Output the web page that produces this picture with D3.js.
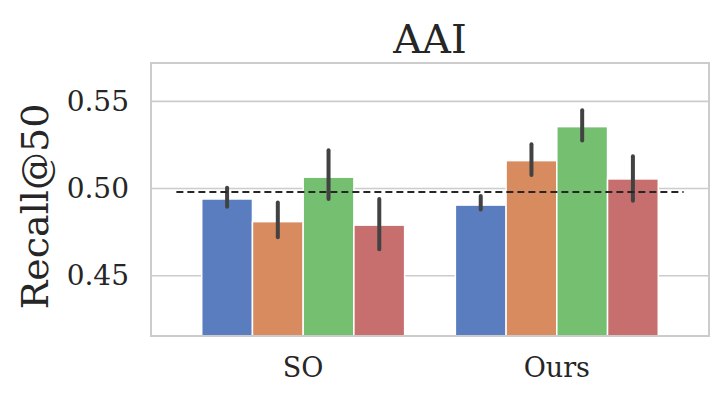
<!DOCTYPE html>
<html lang="en">
<head>
    <meta charset="UTF-8">
    <title>AAI</title>
    <script src="https://cdn.jsdelivr.net/npm/d3@7"></script>
    <style>
        body { margin: 0; background: #fff; }
        svg { display: block; }
        text { font-family: 'DejaVu Serif', serif; fill: #262626; }
    </style>
</head>
<body>
<div id="chart"></div>
<script type="text/javascript">
    var w = 718;
    var h = 396;

    // data
    var categories = ["SO", "Ours"];
    var series = ["s1", "s2", "s3", "s4"];
    var colors = ["#597dbf", "#d88b5f", "#75bf71", "#c76e6e"];
    var means = [
        [0.494, 0.481, 0.5065, 0.479],
        [0.4905, 0.516, 0.5355, 0.5055]
    ];
    var ciLow = [
        [0.4895, 0.472, 0.494, 0.4652],
        [0.488, 0.5078, 0.5275, 0.493]
    ];
    var ciHigh = [
        [0.5005, 0.492, 0.522, 0.494],
        [0.4957, 0.5254, 0.5449, 0.5185]
    ];
    var yTicks = [0.45, 0.50, 0.55];
    var baseline = 0.498;

    // plot box (window.top is read-only, so no "top" here)
    var pLeft = 151, pRight = 709, pTop = 63, pBottom = 336;

    var svg = d3.select("#chart")
      .append("svg")
      .attr("width", w)
      .attr("height", h);

    // seaborn style: categories at 0,1 with a 0.6 margin on each side
    var xc = d3.scaleLinear().domain([-0.6, 1.6]).range([pLeft, pRight]);
    var x = d3.scaleBand().domain(categories)
        .range([xc(-0.5), xc(1.5)])
        .paddingInner(0.2).paddingOuter(0.1);
    var xh = d3.scaleBand().domain(series).range([0, x.bandwidth()]);
    var y = d3.scaleLinear().domain([0.4154, 0.572]).range([pBottom, pTop]);

    // grid
    svg.append("g")
      .selectAll("line")
      .data(yTicks)
      .enter()
      .append("line")
      .attr("x1", pLeft).attr("x2", pRight)
      .attr("y1", function(d) { return y(d); })
      .attr("y2", function(d) { return y(d); })
      .attr("stroke", "#cccccc")
      .attr("stroke-width", 1.6);

    // y axis labels
    var yAxis = d3.axisLeft(y).tickValues(yTicks).tickSize(0).tickPadding(22)
        .tickFormat(d3.format(".2f"));
    var ya = svg.append("g")
      .attr("transform", "translate(" + pLeft + ",0)")
      .call(yAxis);
    ya.select(".domain").remove();
    ya.selectAll("text")
      .style("font-family", "'DejaVu Serif', serif")
      .style("font-size", "28px")
      .attr("fill", "#262626");

    // bars
    var rows = [];
    categories.forEach(function(c, i) {
        series.forEach(function(s, j) {
            rows.push({cat: c, s: s, j: j, v: means[i][j], lo: ciLow[i][j], hi: ciHigh[i][j]});
        });
    });

    svg.append("g")
      .selectAll("rect")
      .data(rows)
      .enter()
      .append("rect")
      .attr("x", function(d) { return x(d.cat) + xh(d.s); })
      .attr("width", xh.bandwidth())
      .attr("y", function(d) { return y(d.v); })
      .attr("height", function(d) { return pBottom - y(d.v); })
      .attr("fill", function(d) { return colors[d.j]; })
      .attr("stroke", "#ffffff")
      .attr("stroke-width", 1.5);

    // error bars
    svg.append("g")
      .selectAll("line")
      .data(rows)
      .enter()
      .append("line")
      .attr("x1", function(d) { return x(d.cat) + xh(d.s) + xh.bandwidth() / 2; })
      .attr("x2", function(d) { return x(d.cat) + xh(d.s) + xh.bandwidth() / 2; })
      .attr("y1", function(d) { return y(d.lo); })
      .attr("y2", function(d) { return y(d.hi); })
      .attr("stroke", "#424242")
      .attr("stroke-width", 4)
      .attr("stroke-linecap", "round");

    // dashed reference line
    svg.append("line")
      .attr("x1", xc(-0.5)).attr("x2", xc(1.5))
      .attr("y1", y(baseline)).attr("y2", y(baseline))
      .attr("stroke", "#262626")
      .attr("stroke-width", 1.8)
      .attr("stroke-dasharray", "7,4");

    // frame
    svg.append("rect")
      .attr("x", pLeft).attr("y", pTop)
      .attr("width", pRight - pLeft).attr("height", pBottom - pTop)
      .attr("fill", "none")
      .attr("stroke", "#cccccc")
      .attr("stroke-width", 2);

    // x labels
    svg.append("g")
      .selectAll("text")
      .data(categories)
      .enter()
      .append("text")
      .attr("x", function(d) { return x(d) + x.bandwidth() / 2; })
      .attr("y", 377)
      .attr("text-anchor", "middle")
      .style("font-size", "27px")
      .text(function(d) { return d; });

    // title
    svg.append("text")
      .attr("x", (pLeft + pRight) / 2)
      .attr("y", 53)
      .attr("text-anchor", "middle")
      .style("font-size", "40px")
      .text("AAI");

    // y label
    svg.append("text")
      .attr("transform", "translate(48," + ((pTop + pBottom) / 2 + 7) + ") rotate(-90)")
      .attr("text-anchor", "middle")
      .style("font-size", "38px")
      .text("Recall@50");
</script>
</body>
</html>
